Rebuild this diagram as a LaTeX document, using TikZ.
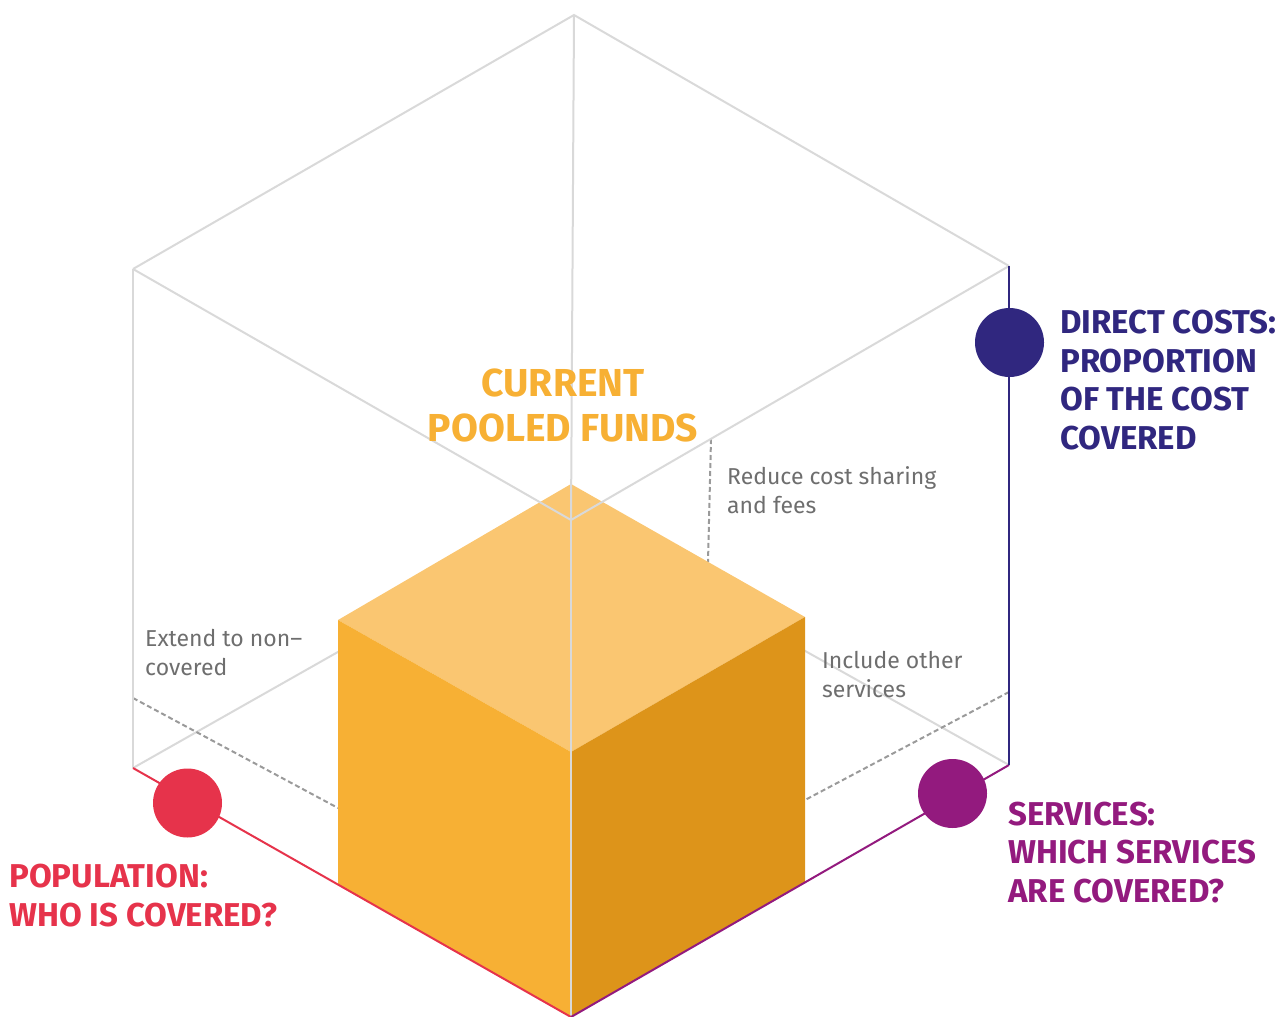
\documentclass[tikz,border=0pt]{standalone}
\usepackage{fontspec}
\setmainfont{Fira Sans}
\newfontfamily\headfont{Fira Sans}[UprightFont=* Bold]
\definecolor{edgegray}{HTML}{D9D9D9}
\definecolor{dashgray}{HTML}{9A9A9A}
\definecolor{txtgray}{HTML}{6E6E6E}
\definecolor{topface}{HTML}{FAC671}
\definecolor{leftface}{HTML}{F7B034}
\definecolor{rightface}{HTML}{DD941A}
\definecolor{popred}{HTML}{E6334B}
\definecolor{servpurple}{HTML}{931A7E}
\definecolor{costnavy}{HTML}{30277F}
\definecolor{fundorange}{HTML}{F7B034}
\begin{document}
\begin{tikzpicture}[x=1pt,y=-1pt,
  edge/.style={draw=edgegray,line width=2pt},
  guide/.style={draw=dashgray,line width=2pt,dash pattern=on 5pt off 3pt},
  axis/.style={line width=2pt},
  dot/.style={circle,minimum size=69pt,inner sep=0pt},
  small/.style={anchor=base west,inner sep=0pt,font=\fontsize{23}{29}\selectfont,text=txtgray,align=left},
  head/.style={anchor=base west,inner sep=0pt,font=\headfont\fontsize{33}{38.5}\selectfont,align=left}]
\useasboundingbox (0,0) rectangle (1285,1017);
% big cube vertices
\coordinate (T) at (574,15);
\coordinate (L) at (133,269);
\coordinate (R) at (1009,266);
\coordinate (C) at (571,520);
\coordinate (LB) at (133,768);
\coordinate (RB) at (1009,765);
\coordinate (B) at (571,1017);
% small cube vertices
\coordinate (sT) at (571,484);
\coordinate (sL) at (338,620);
\coordinate (sR) at (805,617);
\coordinate (sC) at (571,752);
\coordinate (sLB) at (338,885);
\coordinate (sRB) at (805,883);
% hidden back edges
\draw[edge] (LB) -- (C);
\draw[edge] (RB) -- (C);
% dashed guides
\coordinate (gL1) at (133,698);
\coordinate (gL2) at (338,808);
\coordinate (gR1) at (1009,692);
\coordinate (gR2) at (805,800);
\coordinate (gT1) at (711,439);
\coordinate (gT2) at (708,562);
\draw[guide] (gL1) -- (gL2);
\draw[guide] (gR1) -- (gR2);
\draw[guide] (gT1) -- (gT2);
% small cube faces
\fill[topface] (sT) -- (sR) -- (sC) -- (sL) -- cycle;
\fill[leftface] (sL) -- (sC) -- (B) -- (sLB) -- cycle;
\fill[rightface] (sC) -- (sR) -- (sRB) -- (B) -- cycle;
% big cube visible edges
\draw[edge] (L) -- (T) -- (R);
\draw[edge] (T) -- (C);
\draw[edge] (L) -- (C) -- (R);
\draw[edge] (C) -- (B);
\draw[edge] (L) -- (LB);
% coloured axes
\draw[axis,draw=popred] (LB) -- (B);
\draw[axis,draw=servpurple] (B) -- (RB);
\draw[axis,draw=costnavy] (R) -- (RB);
% dots
\node[dot,fill=popred] (popdot) at (187.5,803) {};
\node[dot,fill=servpurple] (servdot) at (952.5,793.5) {};
\node[dot,fill=costnavy] (costdot) at (1009.5,342.5) {};
% labels (anchored at baseline of last line)
\node[anchor=base,inner sep=0pt,font=\headfont\fontsize{39}{45}\selectfont,text=fundorange,align=center] (funds) at (563,441) {CURRENT\\POOLED FUNDS};
\node[head,text=costnavy] (costlbl) at (1060,449) {DIRECT COSTS:\\PROPORTION\\OF THE COST\\COVERED};
\node[head,text=servpurple] (servlbl) at (1008,902) {SERVICES:\\WHICH SERVICES\\ARE COVERED?};
\node[head,text=popred] (poplbl) at (9,926) {POPULATION:\\WHO IS COVERED?};
\node[small] (reduce) at (727,513) {Reduce cost sharing\\and fees};
\node[small] (extend) at (145,675) {Extend to non–\\covered};
\node[small] (include) at (822,697) {Include other\\services};
\end{tikzpicture}
\end{document}
